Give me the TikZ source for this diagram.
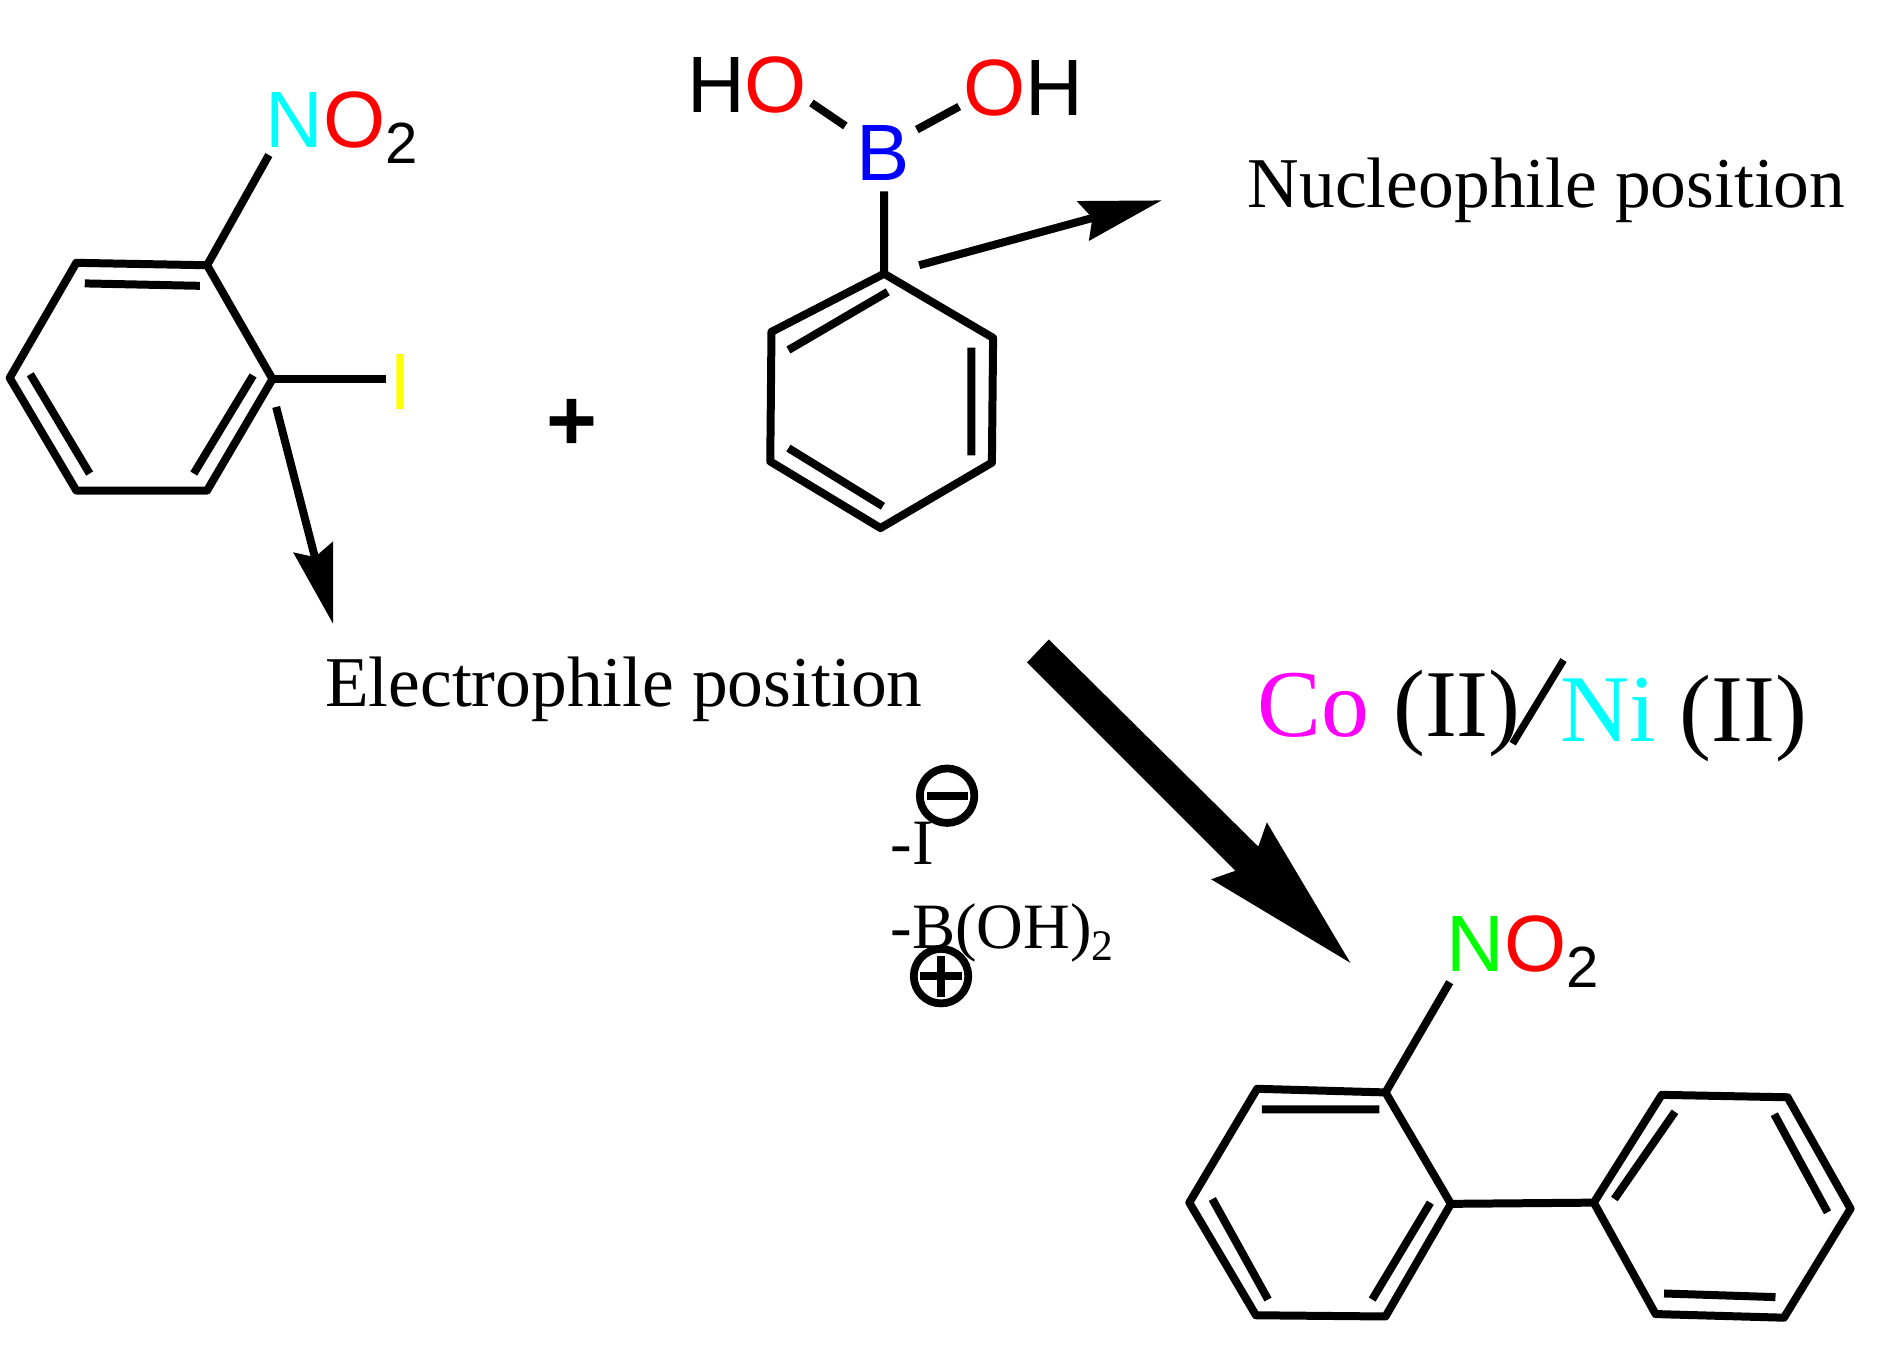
\documentclass[tikz,border=0pt]{standalone}
\usepackage{fontspec}
\setmainfont{Liberation Serif}
\setsansfont{Liberation Sans}
\definecolor{cyanA}{RGB}{0,255,255}
\definecolor{redA}{RGB}{255,0,0}
\definecolor{yellowA}{RGB}{255,255,0}
\definecolor{blueA}{RGB}{0,0,255}
\definecolor{magentaA}{RGB}{255,0,255}
\definecolor{greenA}{RGB}{0,255,0}
\newcommand{\subtwo}{\raisebox{-6.5pt}{\fontsize{24}{24}\selectfont 2}}
\tikzset{
  bond/.style={line width=3.3pt,line join=round,line cap=round},
  inner/.style={line width=3.3pt},
  atom/.style={inner sep=0pt,anchor=base west,font=\sffamily\fontsize{33}{33}\selectfont},
  label/.style={inner sep=0pt,anchor=base west,font=\rmfamily\fontsize{29.5}{30}\selectfont},
  metal/.style={inner sep=0pt,anchor=base west,font=\rmfamily\fontsize{39.5}{40}\selectfont},
  loss/.style={inner sep=0pt,anchor=base west,font=\rmfamily\fontsize{26.7}{28}\selectfont},
  charge/.style={circle,draw,line width=3.2pt,minimum size=22.5pt,inner sep=0pt},
  head/.style={fill=black,draw=none}
}
\begin{document}
\begin{tikzpicture}[x=0.5pt,y=-0.5pt]
\useasboundingbox (0,0) rectangle (1568,1115);
% ring 1
\coordinate (a1) at (171,219); \coordinate (a2) at (225,313); \coordinate (a3) at (171,405);
\coordinate (a4) at (63,405); \coordinate (a5) at (8,312); \coordinate (a6) at (63,217);
\draw[bond] (a1)--(a2)--(a3)--(a4)--(a5)--(a6)--cycle;
\coordinate (ai1) at (165,236); \coordinate (ai2) at (70,234);
\coordinate (ai3) at (209,310); \coordinate (ai4) at (160,391);
\coordinate (ai5) at (74,391); \coordinate (ai6) at (25,309);
\draw[inner] (ai1)--(ai2) (ai3)--(ai4) (ai5)--(ai6);
\node[atom] (no2a) at (219,122) {\textcolor{cyanA}{N}\textcolor{redA}{O}\subtwo};
\coordinate (no2aB) at (222,128);
\draw[inner] (a1)--(no2aB);
\node[atom,text=yellowA] (iod) at (321,338) {I};
\coordinate (iodB) at (319,313);
\draw[inner] (a2)--(iodB);
% electrophile arrow
\coordinate (e0) at (228,336); \coordinate (e1) at (275,515);
\coordinate (e2) at (242,456); \coordinate (e3) at (260,460); \coordinate (e4) at (275,447);
\draw[inner] (e0)--(e3);
\fill[head] (e1)--(e2)--(e3)--(e4)--cycle;
\node[label] (elec) at (268,583) {Electrophile position};
% plus
\node[inner sep=0pt,font=\sffamily\bfseries\fontsize{36}{36}\selectfont] (plus) at (472,351) {+};
% ring 2
\coordinate (b1) at (730,226); \coordinate (b2) at (820,279); \coordinate (b3) at (819,382);
\coordinate (b4) at (727,436); \coordinate (b5) at (636,381); \coordinate (b6) at (637,274);
\draw[bond] (b1)--(b2)--(b3)--(b4)--(b5)--(b6)--cycle;
\coordinate (bi1) at (733,241); \coordinate (bi2) at (651,289);
\coordinate (bi3) at (802,287); \coordinate (bi4) at (802,376);
\coordinate (bi5) at (729,418); \coordinate (bi6) at (651,370);
\draw[inner] (bi1)--(bi2) (bi3)--(bi4) (bi5)--(bi6);
\node[atom] (hoa) at (567,93) {H\textcolor{redA}{O}};
\node[atom] (hob) at (795,95) {\textcolor{redA}{O}H};
\node[atom,text=blueA] (bor) at (707,149) {B};
\coordinate (bB) at (730,158); \coordinate (ha1) at (670,85); \coordinate (ha2) at (698,104);
\coordinate (hb1) at (757,107); \coordinate (hb2) at (792,88);
\draw[inner] (b1)--(bB) (ha1)--(ha2) (hb1)--(hb2);
% nucleophile arrow
\coordinate (n0) at (759,219); \coordinate (n1) at (959,165.5);
\coordinate (n2) at (889,166); \coordinate (n3) at (902,180); \coordinate (n4) at (899,199);
\draw[inner] (n0)--(n3);
\fill[head] (n1)--(n2)--(n3)--(n4)--cycle;
\node[label] (nuc) at (1030,171.5) {Nucleophile position};
% big arrow
\coordinate (m1) at (866,528); \coordinate (m2) at (1039,699); \coordinate (m3) at (1046,679);
\coordinate (m4) at (1115,795); \coordinate (m5) at (1000,726); \coordinate (m6) at (1020,719);
\coordinate (m7) at (848,547);
\fill[head] (m1)--(m2)--(m3)--(m4)--(m5)--(m6)--(m7)--cycle;
% catalysts
\node[metal] (co) at (1038,608) {\textcolor{magentaA}{Co} (II)};
\node[metal] (ni) at (1288,612) {\textcolor{cyanA}{Ni} (II)};
\coordinate (s1) at (1291,545); \coordinate (s2) at (1249,614);
\draw[line width=3pt] (s1)--(s2);
% losses
\node[loss] (li) at (735,714) {-I};
\node[loss] (lb) at (735,783) {-B(OH)\raisebox{-5pt}{\fontsize{18}{18}\selectfont 2}};
\node[charge] (cm) at (782,657) {};
\node[charge] (cp) at (777,806) {};
\draw[line width=3.2pt] ([xshift=-8.5pt]cm.center)--([xshift=8.5pt]cm.center);
\draw[line width=3.2pt] ([xshift=-8.5pt]cp.center)--([xshift=8.5pt]cp.center)
  ([yshift=-8.5pt]cp.center)--([yshift=8.5pt]cp.center);
% product
\coordinate (c1) at (1144,902); \coordinate (c2) at (1198,994); \coordinate (c3) at (1144,1087);
\coordinate (c4) at (1037,1086); \coordinate (c5) at (982,993); \coordinate (c6) at (1038,899);
\draw[bond] (c1)--(c2)--(c3)--(c4)--(c5)--(c6)--cycle;
\coordinate (ci1) at (1139,916); \coordinate (ci2) at (1042,916);
\coordinate (ci3) at (1181,993); \coordinate (ci4) at (1133,1073);
\coordinate (ci5) at (1001,990); \coordinate (ci6) at (1047,1073);
\draw[inner] (ci1)--(ci2) (ci3)--(ci4) (ci5)--(ci6);
\node[atom] (no2b) at (1194,802) {\textcolor{greenA}{N}\textcolor{redA}{O}\subtwo};
\coordinate (no2bB) at (1197,811);
\draw[inner] (c1)--(no2bB);
\coordinate (d1) at (1316,993); \coordinate (d2) at (1372,904); \coordinate (d3) at (1476,906);
\coordinate (d4) at (1528,998); \coordinate (d5) at (1473,1088); \coordinate (d6) at (1367,1085);
\draw[bond] (d1)--(d2)--(d3)--(d4)--(d5)--(d6)--cycle;
\coordinate (di1) at (1383,918); \coordinate (di2) at (1333,990);
\coordinate (di3) at (1465,920); \coordinate (di4) at (1509,1001);
\coordinate (di5) at (1374,1068); \coordinate (di6) at (1466,1071);
\draw[inner] (di1)--(di2) (di3)--(di4) (di5)--(di6);
\draw[inner] (c2)--(d1);
\end{tikzpicture}
\end{document}
